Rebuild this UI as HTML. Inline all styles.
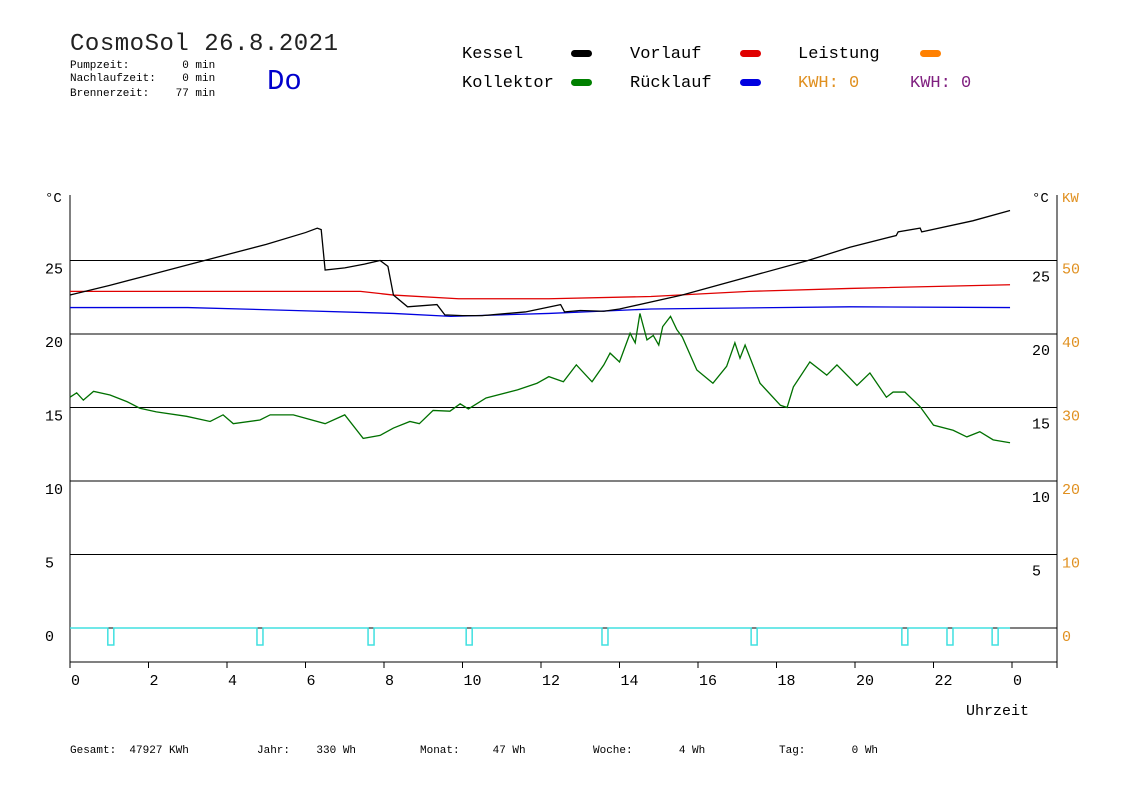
<!DOCTYPE html>
<html><head><meta charset="utf-8"><style>
body{margin:0;background:#fff}
svg{display:block;font-family:"Liberation Mono","DejaVu Sans Mono",monospace}
</style></head><body>
<svg id="chart" width="1148" height="812" viewBox="0 0 1148 812" xmlns="http://www.w3.org/2000/svg">
<rect width="1148" height="812" fill="#fff"/>
<g>
<text x="70" y="50" font-size="24" textLength="268" fill="#222">CosmoSol 26.8.2021</text>
<text x="70" y="68" font-size="11" fill="#000" xml:space="preserve">Pumpzeit:        0 min</text>
<text x="70" y="81" font-size="11" fill="#000" xml:space="preserve">Nachlaufzeit:    0 min</text>
<text x="70" y="96" font-size="11" fill="#000" xml:space="preserve">Brennerzeit:    77 min</text>
<text x="267" y="89" font-size="29" fill="#0000cc">Do</text>
</g>
<g font-size="17">
<text x="462" y="58" fill="#000">Kessel</text>
<rect x="571" y="50" width="21" height="7" rx="3.5" fill="#000"/>
<text x="462" y="87" fill="#000">Kollektor</text>
<rect x="571" y="79" width="21" height="7" rx="3.5" fill="#008000"/>
<text x="630" y="58" fill="#000">Vorlauf</text>
<rect x="740" y="50" width="21" height="7" rx="3.5" fill="#e00000"/>
<text x="630" y="87" fill="#000">Rücklauf</text>
<rect x="740" y="79" width="21" height="7" rx="3.5" fill="#0000e0"/>
<text x="798" y="58" fill="#000">Leistung</text>
<rect x="920" y="50" width="21" height="7" rx="3.5" fill="#ff8000"/>
<text x="798" y="87" fill="#e09020">KWH: 0</text>
<text x="910" y="87" fill="#802080">KWH: 0</text>
</g>
<g id="grid"></g>
<g id="axes"></g>
<g id="series"></g>
<text x="966" y="715" font-size="15" fill="#000">Uhrzeit</text>
<g font-size="11" fill="#000">
<text x="70" y="753" xml:space="preserve">Gesamt:  47927 KWh</text>
<text x="257" y="753" xml:space="preserve">Jahr:    330 Wh</text>
<text x="420" y="753" xml:space="preserve">Monat:     47 Wh</text>
<text x="593" y="753" xml:space="preserve">Woche:       4 Wh</text>
<text x="779" y="753" xml:space="preserve">Tag:       0 Wh</text>
</g>
</svg>
<script>
const yTicks = [0,5,10,15,20,25];
const kwTicks = [0,10,20,30,40,50];
const xTickHours = [0,2,4,6,8,10,12,14,16,18,20,22,24];
const xTickLabels = ["0","2","4","6","8","10","12","14","16","18","20","22","0"];
const kesselH = [0,1,2,3,4,5,6,6.3,6.4,6.5,7,7.5,7.9,8.1,8.24,8.6,9.35,9.55,10,10.5,11.6,12.5,12.6,13,13.6,14,15.6,18.8,19.87,21.05,21.1,21.66,21.7,23,23.95];
const kesselT = [22.65,23.3,24.0,24.7,25.4,26.1,26.9,27.2,27.1,24.35,24.5,24.75,25.0,24.6,22.65,21.85,22.0,21.3,21.25,21.25,21.5,22.0,21.5,21.6,21.55,21.7,22.65,25.0,25.9,26.7,26.95,27.2,26.95,27.7,28.4];
const vorlaufH = [0,7.4,8.24,9.9,12.2,14.8,17.3,19.87,23.95];
const vorlaufT = [22.9,22.9,22.65,22.4,22.4,22.55,22.9,23.1,23.35];
const ruecklaufH = [0,3,5.7,8.24,9.7,12.2,14.8,19.87,23.95];
const ruecklaufT = [21.8,21.8,21.6,21.4,21.2,21.4,21.7,21.85,21.8];
const kollektorH = [0,0.17,0.34,0.6,1.02,1.45,1.78,2.2,2.97,3.57,3.9,4.16,4.84,5.1,5.69,6.5,7.0,7.47,7.9,8.24,8.66,8.9,9.25,9.68,9.94,10.15,10.6,11.4,11.9,12.2,12.57,12.9,13.3,13.6,13.76,14.0,14.27,14.4,14.52,14.7,14.86,15.0,15.1,15.3,15.46,15.6,15.97,16.38,16.73,16.94,17.07,17.2,17.58,18.1,18.27,18.43,18.85,19.28,19.54,19.87,20.05,20.38,20.8,20.97,21.27,21.66,22.0,22.5,22.85,23.18,23.52,23.95];
const kollektorT = [15.7,16.0,15.5,16.1,15.85,15.4,14.95,14.7,14.4,14.05,14.5,13.9,14.15,14.5,14.5,13.9,14.5,12.9,13.1,13.6,14.05,13.9,14.8,14.75,15.25,14.9,15.65,16.2,16.65,17.1,16.75,17.9,16.75,17.9,18.7,18.1,20.05,19.4,21.4,19.6,19.9,19.25,20.5,21.2,20.3,19.8,17.55,16.65,17.8,19.4,18.35,19.25,16.65,15.15,15.0,16.4,18.1,17.2,17.9,17.0,16.5,17.35,15.7,16.05,16.05,15.05,13.8,13.45,13.0,13.35,12.8,12.6];
const pumpH = [1.04,4.84,7.67,10.17,13.63,17.43,21.27,22.42,23.57];

const NS="http://www.w3.org/2000/svg";
const X0=70, XR=1057, PXH=39.25, Y0=628, PXT=14.7, YTOP=195, YBOT=662;
const xs=h=>X0+h*PXH, ys=t=>Y0-t*PXT;
function mk(tag,attrs,parent,txt){const e=document.createElementNS(NS,tag);for(const k in attrs)e.setAttribute(k,attrs[k]);if(txt!==undefined)e.textContent=txt;parent.appendChild(e);return e;}
const grid=document.getElementById('grid'), axes=document.getElementById('axes'), series=document.getElementById('series');
yTicks.forEach((t,i)=>{
  const l=mk('line',{x1:X0,x2:XR,y1:ys(t),y2:ys(t),stroke:'#000','stroke-width':1},grid);
  
  
  const a=mk('text',{x:45,y:ys(t)+13,'font-size':15,fill:'#000'},axes,String(t));
  
  
  if(t>0){const b=mk('text',{x:1032,y:ys(t)+21,'font-size':15,fill:'#000'},axes,String(t));
  
  }
  const c=mk('text',{x:1062,y:ys(t)+13,'font-size':15,fill:'#e09020'},axes,String(kwTicks[i]));
  
  
});
[['°C',45,'#000','y-left-unit'],['°C',1032,'#000','y-right-unit'],['KW',1062,'#e09020','kw-unit']].forEach(u=>{
  const e=mk('text',{x:u[1],y:202,'font-size':14,fill:u[2]},axes,u[0]);
  
  
});
const la=mk('line',{x1:X0,x2:X0,y1:YTOP,y2:YBOT,stroke:'#000'},axes);


const ra=mk('line',{x1:XR,x2:XR,y1:YTOP,y2:YBOT,stroke:'#000'},axes);


const xa=mk('line',{x1:X0,x2:XR,y1:YBOT,y2:YBOT,stroke:'#000'},axes);


xTickHours.forEach((h,i)=>{
  const tk=mk('line',{x1:xs(h),x2:xs(h),y1:YBOT,y2:YBOT+6,stroke:'#000'},axes);
  
  
  const tl=mk('text',{x:xs(h)+1,y:685,'font-size':15,fill:'#000'},axes,xTickLabels[i]);
  
  
});
const rtk=mk('line',{x1:XR,x2:XR,y1:YBOT,y2:YBOT+6,stroke:'#000'},axes);


// pump line
let pd='M'+X0+' '+Y0;
pumpH.forEach(h=>{const x=xs(h);pd+=' L'+(x-3)+' '+Y0+' L'+(x-3)+' '+(Y0+17)+' L'+(x+3)+' '+(Y0+17)+' L'+(x+3)+' '+Y0;});
pd+=' L'+xs(23.95)+' '+Y0;
const pp=mk('path',{d:pd,fill:'none',stroke:'#40e0e0','stroke-width':1.5},series);


function step(H,T){let d='M'+xs(H[0])+' '+ys(T[0]);for(let i=1;i<H.length;i++)d+=' L'+xs(H[i])+' '+ys(T[i]);return d;}
[[ruecklaufH,ruecklaufT,'#0000e0','ruecklauf-line'],[vorlaufH,vorlaufT,'#e00000','vorlauf-line'],[kollektorH,kollektorT,'#007000','kollektor-line'],[kesselH,kesselT,'#000','kessel-line']].forEach(s=>{
  const p=mk('path',{d:step(s[0],s[1]),fill:'none',stroke:s[2],'stroke-width':1.3},series);
  
  
});
</script>
</body></html>
